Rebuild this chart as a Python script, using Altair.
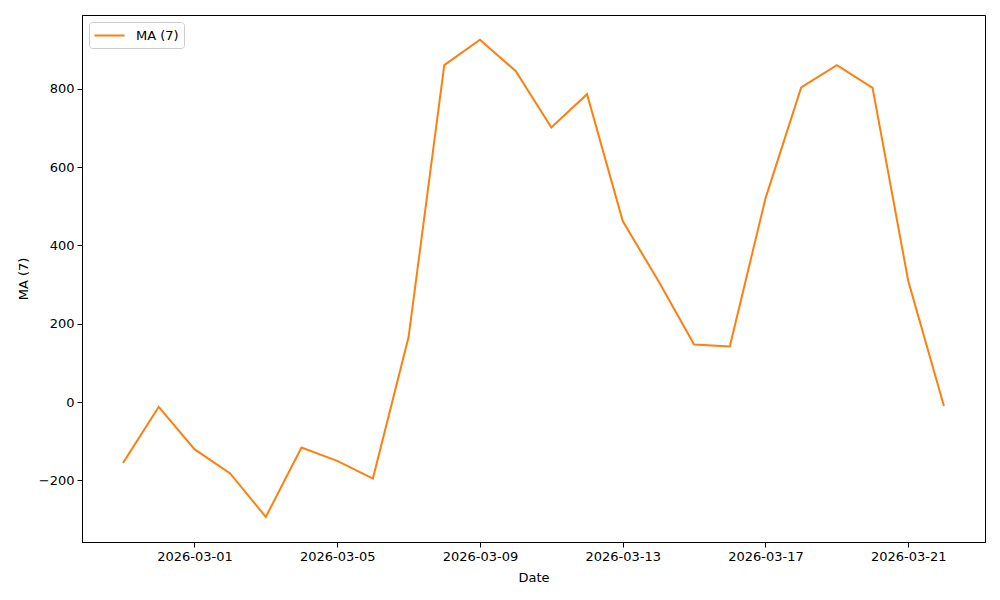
import altair as alt
import pandas as pd

dates = ["2026-02-27", "2026-02-28", "2026-03-01", "2026-03-02", "2026-03-03", "2026-03-04",
         "2026-03-05", "2026-03-06", "2026-03-07", "2026-03-08", "2026-03-09", "2026-03-10",
         "2026-03-11", "2026-03-12", "2026-03-13", "2026-03-14", "2026-03-15", "2026-03-16",
         "2026-03-17", "2026-03-18", "2026-03-19", "2026-03-20", "2026-03-21", "2026-03-22"]
ma7 = [-155, -12, -120, -182, -293, -116, -150, -195, 166, 860, 925, 845,
       701, 786, 462, 309, 147, 142, 520, 803, 860, 802, 309, -10]
series_name = ["MA (7)"] * len(dates)
x_tick_labels = ["2026-03-01", "2026-03-05", "2026-03-09", "2026-03-13", "2026-03-17", "2026-03-21"]
y_ticks = [-200, 0, 200, 400, 600, 800]

df = pd.DataFrame({"Date": dates, "MA (7)": ma7, "series": series_name})

def ms(s, extra_hours=0.0):
    return int((pd.Timestamp(s, tz="UTC") + pd.Timedelta(hours=extra_hours)).timestamp() * 1000)

x_domain = [ms("2026-02-27", -27.6), ms("2026-03-22", 27.6)]
x_vals = [ms(s) for s in x_tick_labels]

FONT = "DejaVu Sans"

chart = alt.Chart(df).mark_line(strokeWidth=2).encode(
    x=alt.X("Date:T",
            scale=alt.Scale(type="utc", domain=x_domain, nice=False),
            axis=alt.Axis(values=x_vals, labelExpr="utcFormat(datum.value, '%Y-%m-%d')",
                          title="Date", grid=False, labelAngle=0,
                          tickSize=5, tickColor="black", domainColor="black",
                          labelColor="black", titleColor="black",
                          labelFontSize=13, titleFontSize=13, labelFont=FONT, titleFont=FONT,
                          titleFontWeight="normal", labelPadding=3, titlePadding=8)),
    y=alt.Y("MA (7):Q",
            scale=alt.Scale(domain=[-357, 988], nice=False, zero=False),
            axis=alt.Axis(values=y_ticks, title="MA (7)", grid=False,
                          tickSize=5, tickColor="black", domainColor="black",
                          labelColor="black", titleColor="black",
                          labelFontSize=13, titleFontSize=13, labelFont=FONT, titleFont=FONT,
                          titleFontWeight="normal", labelPadding=3, titlePadding=8)),
    color=alt.Color("series:N",
                    scale=alt.Scale(domain=["MA (7)"], range=["#ff7f0e"]),
                    legend=alt.Legend(title=None, orient="none", legendX=7, legendY=7,
                                      symbolType="M-2,0L2,0", symbolSize=225, symbolStrokeWidth=2,
                                      symbolOffset=7,
                                      labelFontSize=13, labelFont=FONT, labelColor="black",
                                      strokeColor="#cccccc", fillColor="white", padding=5,
                                      cornerRadius=3, labelOffset=18)),
).properties(
    width=903, height=527,
    padding={"left": 74, "top": 7, "right": 7, "bottom": 50},
    autosize=alt.AutoSizeParams(type="none"),
).configure_view(stroke="black", strokeWidth=1)

chart.save("out.html", embed_options={"renderer": "svg", "actions": False})
